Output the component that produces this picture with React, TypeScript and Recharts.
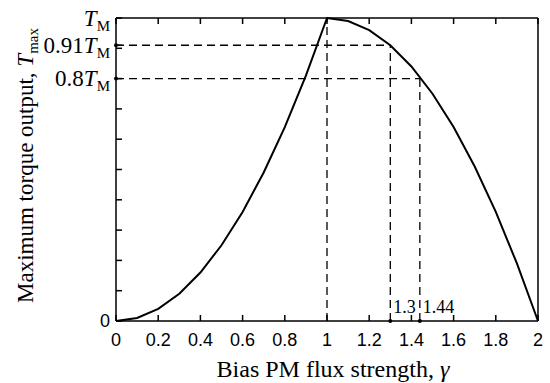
import { LineChart, Line, XAxis, YAxis, ReferenceLine, ReferenceDot } from 'recharts';

// bias PM flux strength (gamma) and normalised max torque (T_max / T_M)
const gammaValues = [0, 0.1, 0.2, 0.3, 0.4, 0.5, 0.6, 0.7, 0.8, 0.9, 1, 1.1, 1.2, 1.3, 1.4, 1.5, 1.6, 1.7, 1.8, 1.9, 2];
const torqueValues = [0, 0.01, 0.04, 0.09, 0.16, 0.25, 0.36, 0.49, 0.64, 0.81, 1, 0.99, 0.96, 0.91, 0.84, 0.75, 0.64, 0.51, 0.36, 0.19, 0];

const xTicks = [0, 0.2, 0.4, 0.6, 0.8, 1, 1.2, 1.4, 1.6, 1.8, 2];
const yTicks = [0, 0.1, 0.2, 0.3, 0.4, 0.5, 0.6, 0.7, 0.8, 0.9, 1];
const yLabelTicks = [0, 0.8, 0.91, 1];
const yLabelText = ['0', '0.8', '0.91', ''];

// marked operating points
const markerGammas = [1.3, 1.44];
const markerTorques = [0.91, 0.8];
const markerLabels = ['1.3', '1.44'];

const data = gammaValues.map((g, i) => ({ gamma: g, torque: torqueValues[i] }));

const SERIF = '"Liberation Serif", "Times New Roman", serif';
const SANS = '"Liberation Sans", Arial, sans-serif';
const dash = '8 5';

const XTick = ({ x, y, payload }: any) => (
  <text x={x} y={y} dy="0.71em" textAnchor="middle" fontFamily={SANS} fontSize={18} fill="#000">
    {String(Number(payload.value.toFixed(1)))}
  </text>
);

const YTick = ({ x, y, payload }: any) => {
  const idx = yLabelTicks.indexOf(payload.value);
  if (idx < 0) return <g />;
  if (payload.value === 0) {
    return (
      <text x={x} y={y} dy="0.36em" textAnchor="end" fontFamily={SANS} fontSize={18} fill="#000">
        0
      </text>
    );
  }
  return (
    <text x={x} y={y} dy="0.33em" textAnchor="end" fontFamily={SERIF} fontSize={23} fill="#000">
      {yLabelText[idx]}
      <tspan fontStyle="italic">T</tspan>
      <tspan fontSize={15} dy={5}>M</tspan>
    </text>
  );
};

const NoTick = () => <g />;

const XTitle = ({ viewBox }: any) => (
  <text x={viewBox.x + viewBox.width / 2 + 6} y={377} textAnchor="middle" fontFamily={SERIF} fontSize={24} fill="#000">
    Bias PM flux strength, <tspan fontStyle="italic">γ</tspan>
  </text>
);

const YTitle = ({ viewBox }: any) => {
  const cy = viewBox.y + viewBox.height / 2 - 4;
  return (
    <text x={33} y={cy} transform={`rotate(-90, 33, ${cy})`} textAnchor="middle" fontFamily={SERIF} fontSize={23} fill="#000">
      Maximum torque output, <tspan fontStyle="italic">T</tspan>
      <tspan fontSize={15} dy={5}>max</tspan>
    </text>
  );
};

const markerLabel = (text: string) => ({ viewBox }: any) => (
  <text
    x={viewBox.x + viewBox.width / 2 + 3}
    y={viewBox.y + viewBox.height / 2 - 8}
    fontFamily={SERIF}
    fontSize={18}
    fill="#000"
  >
    {text}
  </text>
);

export default function App() {
  return (
    <div style={{ position: 'absolute', left: 0, top: 0, background: '#fff' }}>
      <LineChart width={550} height={383} data={data} margin={{ top: 0, right: 0, bottom: 0, left: 0 }}>
        <XAxis
          xAxisId="bottom"
          dataKey="gamma"
          type="number"
          domain={[0, 2]}
          ticks={xTicks}
          orientation="bottom"
          height={62}
          tickSize={-6}
          tickMargin={18}
          tick={XTick}
          axisLine={{ stroke: '#000', strokeWidth: 1.5 }}
          tickLine={{ stroke: '#000', strokeWidth: 1.5 }}
          interval={0}
          label={{ content: XTitle }}
        />
        <XAxis
          xAxisId="top"
          dataKey="gamma"
          type="number"
          domain={[0, 2]}
          ticks={xTicks}
          orientation="top"
          height={18}
          tickSize={-6}
          tick={NoTick}
          axisLine={{ stroke: '#000', strokeWidth: 1.5 }}
          tickLine={{ stroke: '#000', strokeWidth: 1.5 }}
          interval={0}
        />
        <YAxis
          yAxisId="left"
          type="number"
          domain={[0, 1]}
          ticks={[...yTicks, 0.91]}
          width={116}
          tickSize={-6}
          tickMargin={12}
          tick={YTick}
          axisLine={{ stroke: '#000', strokeWidth: 1.5 }}
          tickLine={{ stroke: '#000', strokeWidth: 1.5 }}
          interval={0}
          label={{ content: YTitle }}
        />
        <YAxis
          yAxisId="right"
          orientation="right"
          type="number"
          domain={[0, 1]}
          ticks={yTicks}
          width={12}
          tickSize={-6}
          tick={NoTick}
          axisLine={{ stroke: '#000', strokeWidth: 1.5 }}
          tickLine={{ stroke: '#000', strokeWidth: 1.5 }}
          interval={0}
        />
        <ReferenceLine
          xAxisId="bottom"
          yAxisId="left"
          segment={[{ x: 1, y: 0 }, { x: 1, y: 1 }]}
          stroke="#000"
          strokeWidth={1.3}
          strokeDasharray={dash}
        />
        {markerGammas.map((g, i) => (
          <ReferenceLine
            key={`h${i}`}
            xAxisId="bottom"
            yAxisId="left"
            segment={[{ x: 0, y: markerTorques[i] }, { x: g, y: markerTorques[i] }]}
            stroke="#000"
            strokeWidth={1.3}
            strokeDasharray={dash}
          />
        ))}
        {markerGammas.map((g, i) => (
          <ReferenceLine
            key={`v${i}`}
            xAxisId="bottom"
            yAxisId="left"
            segment={[{ x: g, y: 0 }, { x: g, y: markerTorques[i] }]}
            stroke="#000"
            strokeWidth={1.3}
            strokeDasharray={dash}
          />
        ))}
        <Line
          xAxisId="bottom"
          yAxisId="left"
          type="linear"
          dataKey="torque"
          stroke="#000"
          strokeWidth={2}
          dot={false}
          isAnimationActive={false}
        />
        {markerGammas.map((g, i) => (
          <ReferenceDot
            key={`dx${i}`}
            xAxisId="bottom"
            yAxisId="left"
            x={g}
            y={0}
            r={2}
            fill="#000"
            stroke="none"
            ifOverflow="visible"
            label={{ content: markerLabel(markerLabels[i]) }}
          />
        ))}
        {markerTorques.map((t, i) => (
          <ReferenceDot
            key={`dy${i}`}
            xAxisId="bottom"
            yAxisId="left"
            x={0}
            y={t}
            r={2}
            fill="#000"
            stroke="none"
            ifOverflow="visible"
          />
        ))}
      </LineChart>
    </div>
  );
}
